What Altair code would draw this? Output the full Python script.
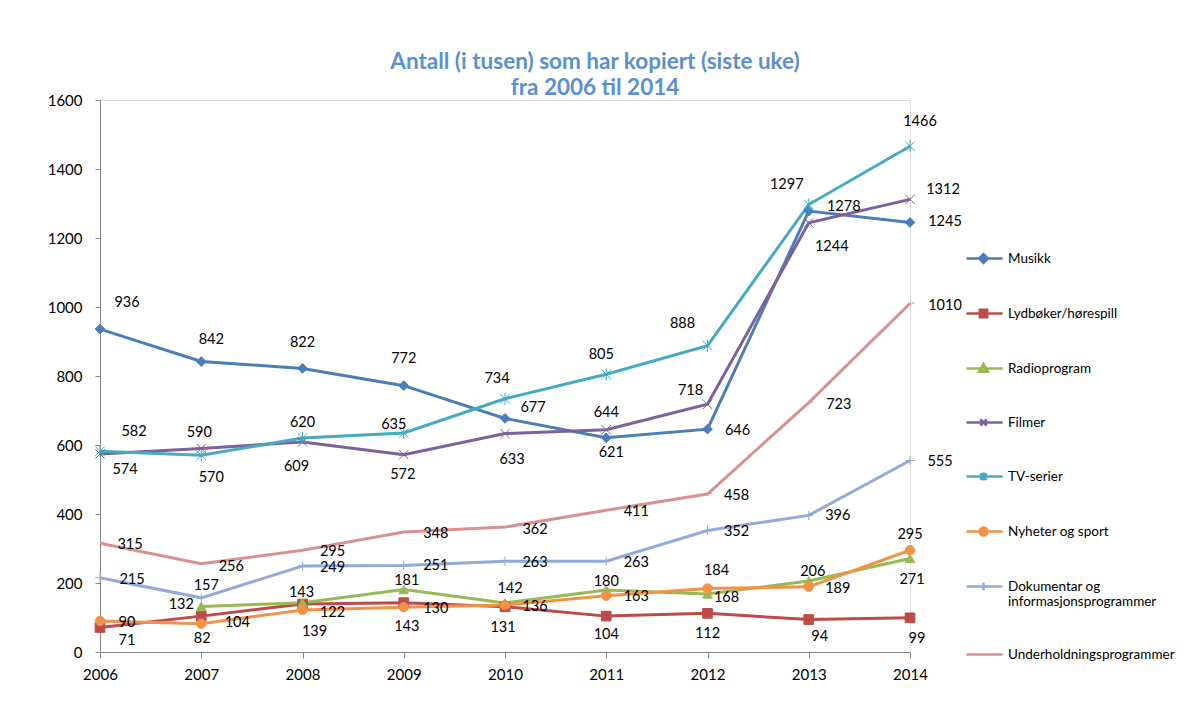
import altair as alt
import pandas as pd

# ---------------- data ----------------
years = [2006, 2007, 2008, 2009, 2010, 2011, 2012, 2013, 2014]
series_names = [
    "Musikk",
    "Lydbøker/hørespill",
    "Radioprogram",
    "Filmer",
    "TV-serier",
    "Nyheter og sport",
    "Dokumentar og informasjonsprogrammer",
    "Underholdningsprogrammer",
]
musikk = [936, 842, 822, 772, 677, 621, 646, 1278, 1245]
lydboker = [71, 104, 139, 143, 131, 104, 112, 94, 99]
radio = [None, 132, 143, 181, 142, 180, 168, 206, 271]
filmer = [574, 590, 609, 572, 633, 644, 718, 1244, 1312]
tv_serier = [582, 570, 620, 635, 734, 805, 888, 1297, 1466]
nyheter = [90, 82, 122, 130, 136, 163, 184, 189, 295]
dokumentar = [215, 157, 249, 251, 263, 263, 352, 396, 555]
underholdning = [315, 256, 295, 348, 362, 411, 458, 723, 1010]
series_values = [musikk, lydboker, radio, filmer, tv_serier, nyheter, dokumentar, underholdning]

# ---------------- styling ----------------
colors = ["#4A7EBB", "#BE4B48", "#98B954", "#7D60A0", "#46AAC5", "#F39244", "#93ABD8", "#D9918F"]

# data-label placement (pixel offsets relative to each point)
label_offsets = [
    [(27, -26), (10, -22), (0, -25), (0, -27), (28, -10), (5, 15), (30, 2), (35, -4), (35, 0)],
    [(27, 13), (36, 7), (12, 28), (3, 24), (-2, 21), (0, 19), (0, 21), (11, 17), (7, 21)],
    [None, (-20, -1), (-1, -10), (3, -9), (5, -14), (0, -8), (19, 4), (4, -9), (2, 21)],
    [(25, 16), (-2, -15), (-6, 25), (-1, 20), (7, 26), (0, -17), (-17, -13), (23, 24), (33, -9)],
    [(34, -19), (10, 23), (0, -15), (-10, -8), (-8, -20), (-5, -19), (-25, -22), (-22, -20), (10, -24)],
    [(27, 2), (1, 15), (30, 3), (32, 2), (30, 2), (30, 1), (9, -18), (29, 2), (0, -15)],
    [(32, 2), (5, -12), (30, 2), (32, 1), (30, 2), (30, 2), (29, 1), (29, 1), (30, 1)],
    [(30, 2), (30, 3), (30, 2), (32, 2), (30, 3), (30, 2), (29, 2), (30, 2), (35, 2)],
]

marker_shapes = [
    "diamond",
    "square",
    "triangle-up",
    "M-1,-1L1,1M-1,1L1,-1",
    "M-1,-1L1,1M-1,1L1,-1M0,-1.3L0,1.3",
    "circle",
    "M-1,0L1,0M0,-1L0,1",
    "M0,-0.1L1,-0.1",
]
marker_sizes = [95, 85, 100, 110, 100, 125, 120, 160]
marker_strokes = [1, 1, 1, 1.5, 1.5, 1, 1.5, 4]

# legend symbols: short line with the series marker on it
L = "M-0.74,0L0.83,0"
legend_shapes = [
    L + "M0,-0.19L0.19,0L0,0.19L-0.19,0Z",
    L + "M-0.16,-0.16L0.16,-0.16L0.16,0.16L-0.16,0.16Z",
    L + "M0,-0.2L0.2,0.14L-0.2,0.14Z",
    L + "M-0.14,-0.14L0.14,0.14M-0.14,0.14L0.14,-0.14",
    L + "M-0.14,-0.14L0.14,0.14M-0.14,0.14L0.14,-0.14M0,-0.17L0,0.17",
    L + "M-0.17,0A0.17,0.17 0 1,0 0.17,0A0.17,0.17 0 1,0 -0.17,0Z",
    L + "M0,-0.16L0,0.16",
    L,
]

# ---------------- tables ----------------
rows = []
lab_rows = []
for name, vals, offs in zip(series_names, series_values, label_offsets):
    for yr, v, off in zip(years, vals, offs):
        if v is None:
            continue
        rows.append({"series": name, "year": yr, "value": v})
        lab_rows.append({"series": name, "year": yr, "value": v, "dx": off[0], "dy": off[1]})
df = pd.DataFrame(rows)
lab_df = pd.DataFrame(lab_rows)

FONT = "Lato"
AXIS_COLOR = "#868686"

x_enc = alt.X(
    "year:Q",
    scale=alt.Scale(domain=[2006, 2014], nice=False, zero=False),
    axis=alt.Axis(values=years, format="d", title=None, grid=False, tickSize=6,
                  labelPadding=9, domainColor=AXIS_COLOR, tickColor=AXIS_COLOR,
                  labelFont=FONT, labelFontSize=15, labelColor="#000000",
                  labelFlush=False, labelOverlap=False),
)
y_enc = alt.Y(
    "value:Q",
    scale=alt.Scale(domain=[0, 1600], nice=False),
    axis=alt.Axis(values=list(range(0, 1601, 200)), format="d", title=None, grid=False, tickSize=5,
                  labelPadding=13, domainColor=AXIS_COLOR, tickColor=AXIS_COLOR,
                  labelFont=FONT, labelFontSize=15, labelColor="#000000"),
)

def cscale():
    return alt.Scale(domain=series_names, range=colors)

base = alt.Chart(df)

lines = base.mark_line(strokeWidth=3).encode(
    x=x_enc, y=y_enc,
    color=alt.Color("series:N", scale=cscale(), legend=None),
)

points = base.mark_point(opacity=1, filled=False).encode(
    x=x_enc, y=y_enc,
    color=alt.Color("series:N", scale=cscale(), legend=None),
    fill=alt.Fill("series:N", scale=cscale(), legend=None),
    shape=alt.Shape("series:N", scale=alt.Scale(domain=series_names, range=marker_shapes), legend=None),
    size=alt.Size("series:N", scale=alt.Scale(domain=series_names, range=marker_sizes), legend=None),
    strokeWidth=alt.StrokeWidth("series:N", scale=alt.Scale(domain=series_names, range=marker_strokes), legend=None),
)

leg = alt.Legend(
    orient="none", legendX=859, legendY=134, title=None, padding=0,
    labelFont=FONT, labelFontSize=13.5, labelColor="#000000", labelLimit=400,
    symbolSize=2116, symbolStrokeWidth=2.5, symbolOpacity=1, symbolFillColor="transparent",
    rowPadding=21, labelOffset=0,
    labelExpr="datum.label == 'Dokumentar og informasjonsprogrammer' ? ['Dokumentar og', 'informasjonsprogrammer'] : datum.label",
)

legend_layer = base.mark_point(opacity=0, filled=False, strokeWidth=2.5).encode(
    x=x_enc, y=y_enc,
    color=alt.Color("series:N", scale=cscale(), legend=leg),
    fill=alt.Fill("series:N", scale=cscale(), legend=leg),
    shape=alt.Shape("series:N", scale=alt.Scale(domain=series_names, range=legend_shapes), legend=leg),
)

labels = alt.Chart(lab_df).mark_text(
    font=FONT, fontSize=14.5, color="#000000", align="center", baseline="middle",
    dx={"expr": "datum.dx"}, dy={"expr": "datum.dy"},
).encode(x=x_enc, y=y_enc, text=alt.Text("value:Q"))

chart = alt.layer(lines, points, legend_layer, labels).resolve_scale(
    color="independent", fill="independent", shape="independent"
).resolve_legend(
    color="independent", fill="independent", shape="independent"
).properties(
    width=810, height=552,
    autosize="none",
    padding={"left": 92, "top": 92, "right": 268, "bottom": 40},
    title=alt.TitleParams(
        ["Antall (i tusen) som har kopiert (siste uke)", "fra 2006 til 2014"],
        font=FONT, fontSize=22.5, fontWeight="bold", color="#5A8FD6",
        anchor="middle", frame="group", dx=90, offset=-6, lineHeight=26,
    ),
).configure_view(stroke=None).configure(background="white")

chart.save("out.html", embed_options={"renderer": "svg", "actions": False})
